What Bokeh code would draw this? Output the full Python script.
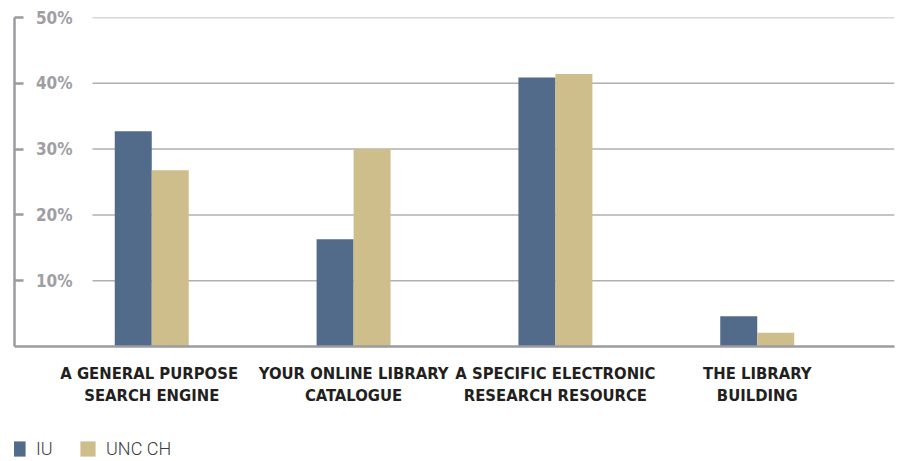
from bokeh.plotting import figure
from bokeh.models import (ColumnDataSource, FactorRange, Range1d, FixedTicker,
                          Legend, LegendItem)
from bokeh.layouts import column
from bokeh.transform import dodge
from bokeh.embed import file_html
from bokeh.resources import INLINE

# ---- data ----
categories = ["A GENERAL  PURPOSE\nSEARCH ENGINE",
              "YOUR ONLINE LIBRARY\nCATALOGUE",
              "A SPECIFIC ELECTRONIC\nRESEARCH RESOURCE",
              "THE LIBRARY\nBUILDING"]
iu = [32.7, 16.3, 40.9, 4.6]
unc_ch = [26.8, 30.0, 41.4, 2.1]
series_names = ["IU", "UNC CH"]
y_ticks = [10, 20, 30, 40, 50]
y_tick_labels = ["10%", "20%", "30%", "40%", "50%"]

IU_COLOR = "#526b8a"
UNC_COLOR = "#cebe8b"
AXIS_COLOR = "#9b9ba0"
GRID_COLOR = "#b0b0b0"
BOLD_FONT = "DejaVu Sans Condensed, sans-serif"

PAD = 0.18
src = ColumnDataSource(dict(cat=categories, iu=iu, unc=unc_ch))

x_range = FactorRange(factors=categories, range_padding=PAD,
                      range_padding_units="absolute")
p = figure(width=898, height=424, x_range=x_range, y_range=Range1d(0, 50),
           output_backend="svg", toolbar_location=None,
           min_border_left=14, min_border_right=4, min_border_top=17,
           min_border_bottom=78, outline_line_color=None,
           background_fill_color="white", border_fill_color="white")

# gridlines (start to the right of the tick labels), in synthetic x units
span = len(categories) + 2 * PAD
gx0 = -PAD + 78 * span / 880
gx1 = len(categories) + PAD
p.xgrid.visible = False
p.ygrid.visible = False
p.segment(x0=[gx0] * len(y_ticks), x1=[gx1] * len(y_ticks), y0=y_ticks, y1=y_ticks,
          line_color=GRID_COLOR, line_width=1.5)

bw = 0.1833
r_iu = p.vbar(x=dodge("cat", -bw / 2, range=p.x_range), top="iu", width=bw,
              source=src, fill_color=IU_COLOR, line_color=None)
r_unc = p.vbar(x=dodge("cat", bw / 2, range=p.x_range), top="unc", width=bw,
               source=src, fill_color=UNC_COLOR, line_color=None)

# y axis
ya = p.yaxis[0]
ya.ticker = FixedTicker(ticks=y_ticks)
ya.major_label_overrides = {t: l for t, l in zip(y_ticks, y_tick_labels)}
ya.axis_line_color = AXIS_COLOR
ya.axis_line_width = 2.5
ya.major_tick_line_color = AXIS_COLOR
ya.major_tick_line_width = 2.5
ya.major_tick_in = 9
ya.major_tick_out = 0
ya.minor_tick_line_color = None
ya.major_label_standoff = -58
ya.major_label_text_font = BOLD_FONT
ya.major_label_text_font_style = "bold"
ya.major_label_text_font_size = "17px"
ya.major_label_text_color = "#9e9ea3"

# x axis
xa = p.xaxis[0]
xa.axis_line_color = AXIS_COLOR
xa.axis_line_width = 2.5
xa.major_tick_line_color = None
xa.major_tick_in = 0
xa.major_tick_out = 0
xa.major_label_standoff = 17
xa.major_label_text_font = BOLD_FONT
xa.major_label_text_font_style = "bold"
xa.major_label_text_font_size = "16.5px"
xa.major_label_text_color = "#231f20"

# ---- legend strip (separate strip so the legend is not clipped) ----
lg = figure(width=898, height=37, x_range=Range1d(0, 1), y_range=Range1d(0, 1),
            output_backend="svg", toolbar_location=None,
            x_axis_location=None, y_axis_location=None, min_border=0,
            outline_line_color=None, background_fill_color="white",
            border_fill_color="white")
lg.xgrid.visible = False
lg.ygrid.visible = False
# off-screen key glyphs that only serve as legend swatches
k_iu = lg.vbar(x=[-5], top=[-5], width=0.1, fill_color=IU_COLOR, line_color=None)
k_unc = lg.vbar(x=[-5], top=[-5], width=0.1, fill_color=UNC_COLOR, line_color=None)
legend = Legend(items=[LegendItem(label=series_names[0], renderers=[k_iu]),
                       LegendItem(label=series_names[1], renderers=[k_unc])],
                orientation="horizontal", location=(-6, 2),
                padding=0, margin=0, spacing=22, label_standoff=9,
                glyph_width=19, glyph_height=19, label_height=15,
                border_line_color=None, background_fill_alpha=0,
                label_text_font="Roboto Light", label_text_font_size="18px",
                label_text_color="#3d3d3d")
lg.add_layout(legend, "center")

open("out.html", "w").write(file_html(column(p, lg, spacing=0), INLINE))
